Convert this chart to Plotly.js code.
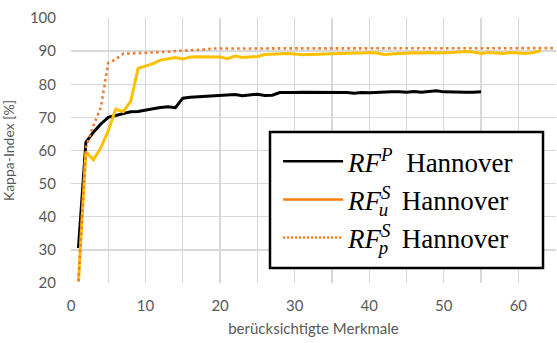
<!DOCTYPE html>
<html>
<head>
<meta charset="utf-8">
<script src="https://cdn.plot.ly/plotly-3.0.1.min.js"></script>
<style>
  html, body { margin: 0; padding: 0; background: #fff; }
  #chart { width: 557px; height: 343px; }
</style>
</head>
<body>
<div id="chart"></div>
<script>
// Kappa-Index [%] over the number of considered features (Hannover)
const rfP = [30.5, 62.5, 65.5, 68, 70, 70.5, 71, 71.7, 71.8, 72.3,
  72.6, 73, 73.2, 72.9, 75.8, 76.1, 76.2, 76.3, 76.6, 76.6,
  76.8, 76.9, 76.5, 76.8, 77, 76.6, 76.7, 77.5, 77.4, 77.5,
  77.6, 77.6, 77.6, 77.5, 77.6, 77.4, 77.5, 77.3, 77.5, 77.4,
  77.5, 77.8, 77.7, 77.7, 77.6, 77.8, 77.6, 77.8, 78.0, 77.7,
  77.6, 77.7, 77.6, 77.6, 77.7];

const rfSu = [20.5, 59.6, 57.2, 60.8, 66, 72.5, 71.7, 74.8, 84.8, 85.5,
  86.2, 87.3, 87.8, 88.1, 87.6, 88.2, 88.3, 88.3, 88.2, 88.2,
  87.7, 88.5, 88.1, 88.2, 88.4, 89, 89.1, 89.3, 89.3, 89.1,
  88.9, 89.0, 89.1, 89.2, 89.3, 89.3, 89.3, 89.4, 89.4, 89.6,
  89.4, 89.0, 89.1, 89.3, 89.4, 89.5, 89.4, 89.6, 89.4, 89.4,
  89.6, 89.7, 89.9, 89.7, 89.3, 89.6, 89.5, 89.3, 89.6, 89.5,
  89.3, 89.6, 90.1];

const rfSp = [20.5, 61, 67.5, 73, 86.5, 87.5, 89.2, 89.3, 89.2, 89.3,
  89.4, 89.6, 89.8, 90, 90.1, 90.2, 90.3, 90.5, 90.8, 90.8,
  90.8, 90.9, 90.9, 90.9, 90.9, 90.9, 90.9, 90.9, 91.0, 90.9,
  90.9, 90.9, 91.0, 90.9, 90.9, 90.9, 91.0, 90.9, 90.9, 90.9,
  90.9, 91.0, 90.9, 90.9, 90.9, 91.0, 90.9, 90.9, 91.0, 90.9,
  90.9, 90.9, 91.0, 90.9, 90.9, 90.9, 90.9, 91.0, 90.9, 90.9,
  90.9, 90.9, 91.0, 90.9, 90.9];

// superscript followed by a subscript set directly beneath it
const stacked = (sup, sub) =>
  '<sup><i><span style="letter-spacing:-0.62em">' + sup + '</span></i></sup>' +
  '<sub><i>' + sub + '</i></sub>';

const seriesNames = [
  '<i>RF</i><sup><i>P</i></sup>&nbsp; Hannover',
  '<i>RF</i>' + stacked('S', 'u') + '&nbsp; Hannover',
  '<i>RF</i>' + stacked('S', 'p') + '&nbsp; Hannover'
];

const xTitle = 'berücksichtigte Merkmale';
const yTitle = 'Kappa-Index [%]';

const idx = arr => arr.map((_, i) => i + 1);

const traces = [
  // plotted series
  { x: idx(rfP), y: rfP, mode: 'lines', showlegend: false,
    line: { color: '#000000', width: 3 } },
  { x: idx(rfSu), y: rfSu, mode: 'lines', showlegend: false,
    line: { color: '#FFC000', width: 3 } },
  { x: idx(rfSp), y: rfSp, mode: 'lines', showlegend: false,
    line: { color: '#ED7D31', width: 2.6, dash: '2.6px,3.2px' } },
  // legend entries
  { x: [null], y: [null], mode: 'lines', name: seriesNames[0], legendgroup: 'a',
    line: { color: '#000000', width: 2.5 } },
  { x: [null], y: [null], mode: 'lines', name: seriesNames[1], legendgroup: 'b',
    line: { color: '#FF7F0E', width: 2.5 } },
  { x: [null], y: [null], mode: 'lines', name: seriesNames[2], legendgroup: 'c',
    line: { color: '#FF7F0E', width: 2.5, dash: '2px,2px' } }
];

const layout = {
  width: 557,
  height: 343,
  margin: { l: 71, r: 1, t: 18, b: 60 },
  paper_bgcolor: '#ffffff',
  plot_bgcolor: '#ffffff',
  font: { family: 'Lato, "Open Sans", sans-serif', color: '#595959', size: 15 },
  showlegend: true,
  // framed white panel the legend sits on
  shapes: [{
    type: 'rect', xref: 'paper', yref: 'paper', layer: 'above',
    x0: 0.4103, x1: 0.9732, y0: 0.0566, y1: 0.5698,
    fillcolor: '#ffffff', line: { color: '#000000', width: 2.5 }
  }],
  legend: {
    x: 0.427, y: 0.55, xanchor: 'left', yanchor: 'top',
    bgcolor: 'rgba(0,0,0,0)', borderwidth: 0,
    font: { family: '"Liberation Serif", "DejaVu Serif", serif', size: 27, color: '#000000' },
    traceorder: 'grouped', tracegroupgap: 0,
    itemwidth: 60
  },
  xaxis: {
    range: [0, 65.05],
    tick0: 0, dtick: 10,
    showgrid: true, gridcolor: '#d9d9d9', gridwidth: 1.3,
    zeroline: false,
    showline: false,
    ticks: '',
    ticklabelstandoff: 12,
    tickfont: { size: 15, color: '#595959' },
    minor: { dtick: 5, showgrid: true, gridcolor: '#d9d9d9', gridwidth: 1.3 },
    title: { text: xTitle, font: { size: 15, color: '#595959' }, standoff: 10 }
  },
  yaxis: {
    range: [20, 100],
    tick0: 20, dtick: 10,
    showgrid: true, gridcolor: '#d9d9d9', gridwidth: 1.3,
    zeroline: false,
    showline: false,
    ticks: '',
    ticklabelstandoff: 14,
    tickfont: { size: 15, color: '#595959' },
    title: { text: yTitle, font: { size: 14, color: '#595959' }, standoff: 12 }
  }
};

Plotly.newPlot('chart', traces, layout, { staticPlot: true, displayModeBar: false });
</script>
</body>
</html>
